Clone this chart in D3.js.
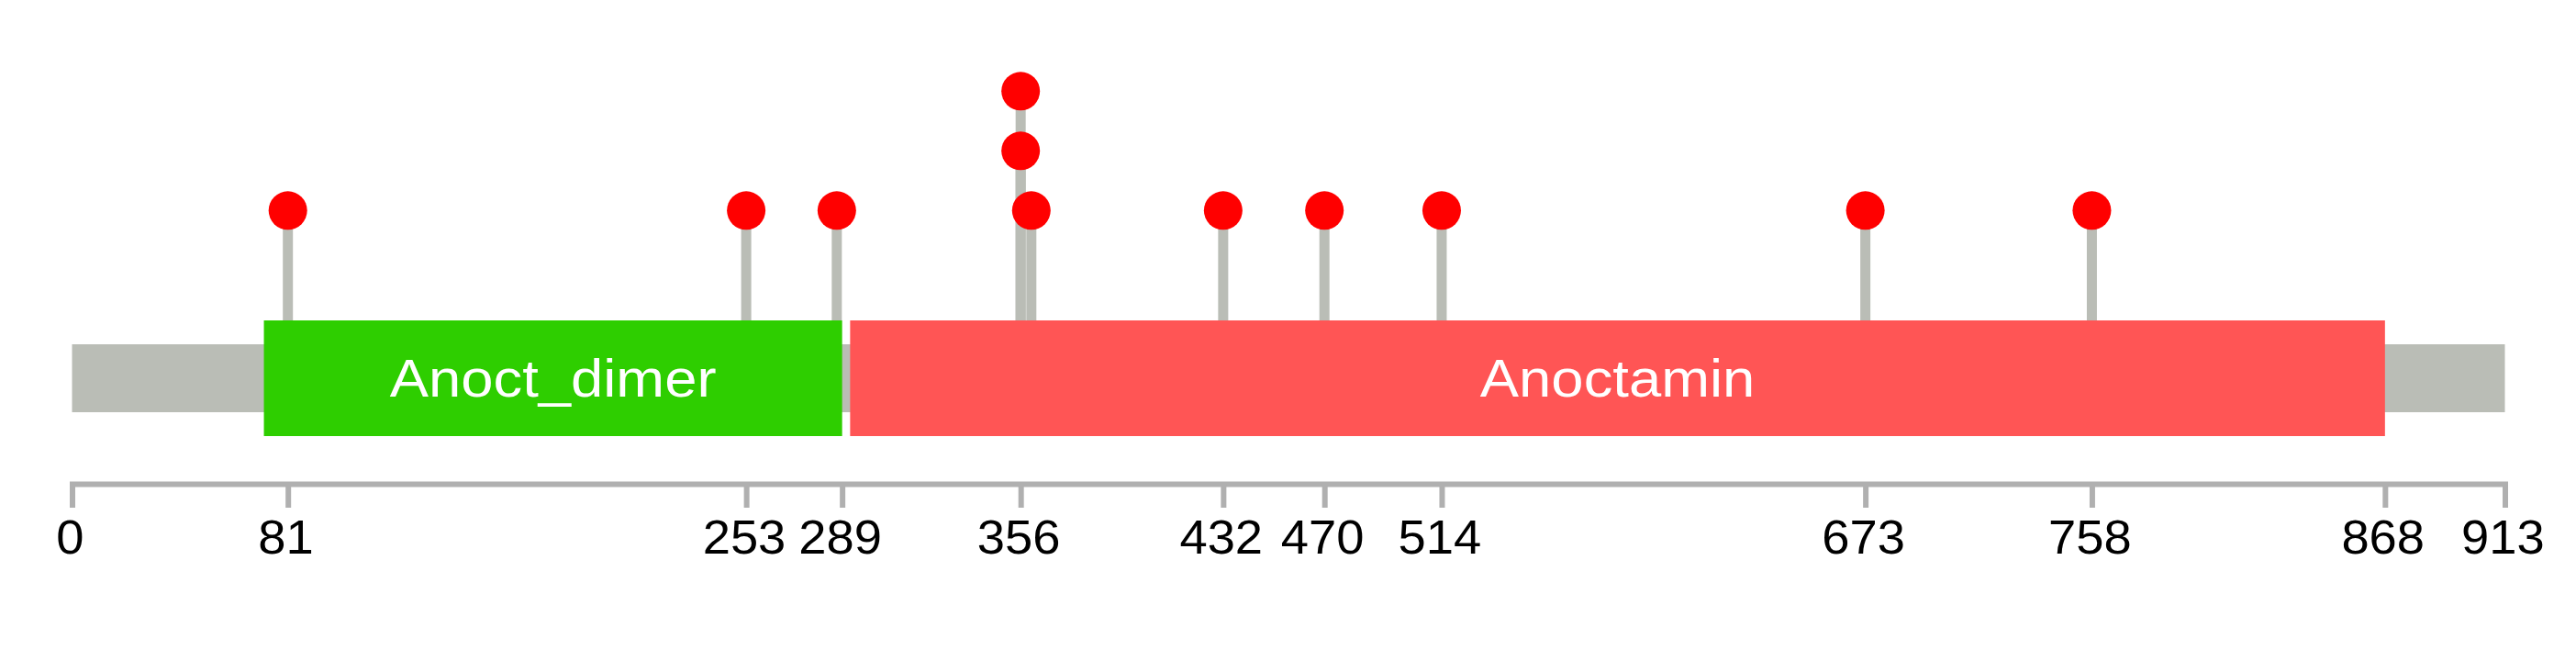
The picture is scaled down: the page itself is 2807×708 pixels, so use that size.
<!DOCTYPE html>
<html>
<head>
<meta charset="utf-8">
<script src="https://cdn.jsdelivr.net/npm/d3@7"></script>
<style>
  html, body { margin: 0; padding: 0; background: #ffffff; }
  svg { display: block; }
  text { font-family: "Liberation Sans", Arial, Helvetica, sans-serif; }
</style>
</head>
<body>
<svg id="chart" width="2807" height="708"></svg>
<script>
// ---- data ----
const proteinLength = 913;
const domainNames = ["Anoct_dimer", "Anoctamin"];
const domainStarts = [72, 292];
const domainEnds = [289, 868];
const domainColors = ["#2ECE00", "#FF5555"];
const mutationPositions = [81, 253, 287, 356, 356, 360, 432, 470, 514, 673, 758];
const mutationLevels = [1, 1, 1, 2, 3, 1, 1, 1, 1, 1, 1];
const tickValues = [0, 81, 253, 289, 356, 432, 470, 514, 673, 758, 868, 913];

// ---- layout ----
const FAMILY = "'Liberation Sans', Arial, sans-serif";
const svg = d3.select("#chart");
const W = 2807, H = 708;
svg.append("rect").attr("width", W).attr("height", H).attr("fill", "#ffffff");

// fit a font so that the ink of a sample string has a given ascent and width
const ctx = document.createElement("canvas").getContext("2d");
function fitText(sample, targetAscent, targetWidth) {
  ctx.font = `100px ${FAMILY}`;
  const m = ctx.measureText(sample);
  const asc = m.actualBoundingBoxAscent;
  const w = m.actualBoundingBoxLeft + m.actualBoundingBoxRight;
  const size = 100 * targetAscent / asc;
  const sx = targetWidth / (w * size / 100);
  return { size, sx };
}
const domFit = fitText("Anoctamin", 42, 296);
const tickFit = fitText("253", 36.3, 86);

const x = d3.scaleLinear().domain([0, proteinLength]).range([78.5, 2729.5]);
const y = d3.scaleLinear().domain([1, 3]).range([229.3, 99.3]);

const backboneTop = 375, backboneH = 74;
const domainTop = 349, domainH = 126;
const axisY = 527;
const grey = "#BABDB6";

// backbone
svg.append("rect")
  .attr("x", x(0)).attr("y", backboneTop)
  .attr("width", x(proteinLength) - x(0)).attr("height", backboneH)
  .attr("fill", grey);

// stems
const muts = mutationPositions.map((p, i) => ({ pos: p, level: mutationLevels[i] }));
svg.append("g").selectAll("line").data(muts).join("line")
  .attr("x1", d => x(d.pos)).attr("x2", d => x(d.pos))
  .attr("y1", domainTop).attr("y2", d => y(d.level))
  .attr("stroke", grey).attr("stroke-width", 11);

// domains
const domains = domainNames.map((n, i) => ({ name: n, start: domainStarts[i], end: domainEnds[i], color: domainColors[i] }));
svg.append("g").selectAll("rect").data(domains).join("rect")
  .attr("x", d => x(d.start)).attr("y", domainTop)
  .attr("width", d => x(d.end) - x(d.start)).attr("height", domainH)
  .attr("fill", d => d.color);

svg.append("g").selectAll("g").data(domains).join("g")
  .attr("transform", d => `translate(${(x(d.start) + x(d.end)) / 2},432) scale(${domFit.sx},1)`)
  .append("text")
  .attr("text-anchor", "middle")
  .attr("font-family", FAMILY)
  .attr("font-size", domFit.size)
  .attr("fill", "#ffffff")
  .text(d => d.name);

// circles
svg.append("g").selectAll("circle").data(muts).join("circle")
  .attr("cx", d => x(d.pos)).attr("cy", d => y(d.level))
  .attr("r", 21)
  .attr("fill", "#FF0000");

// axis
const axis = d3.axisBottom(x)
  .tickValues(tickValues)
  .tickFormat(d3.format("d"))
  .tickSizeInner(26)
  .tickSizeOuter(26)
  .tickPadding(14);

const gAxis = svg.append("g").attr("transform", `translate(0,${axisY})`).call(axis);
gAxis.select(".domain").attr("stroke", "#B0B0B0").attr("stroke-width", 6).attr("fill", "none");
gAxis.selectAll(".tick line").attr("stroke", "#B0B0B0").attr("stroke-width", 6);
gAxis.selectAll(".tick text")
  .attr("font-family", FAMILY)
  .attr("font-size", tickFit.size)
  .attr("fill", "#000000")
  .attr("dy", null)
  .attr("x", -2.5)
  .attr("y", 76.3)
  .attr("transform", `scale(${tickFit.sx},1)`);
</script>
</body>
</html>
